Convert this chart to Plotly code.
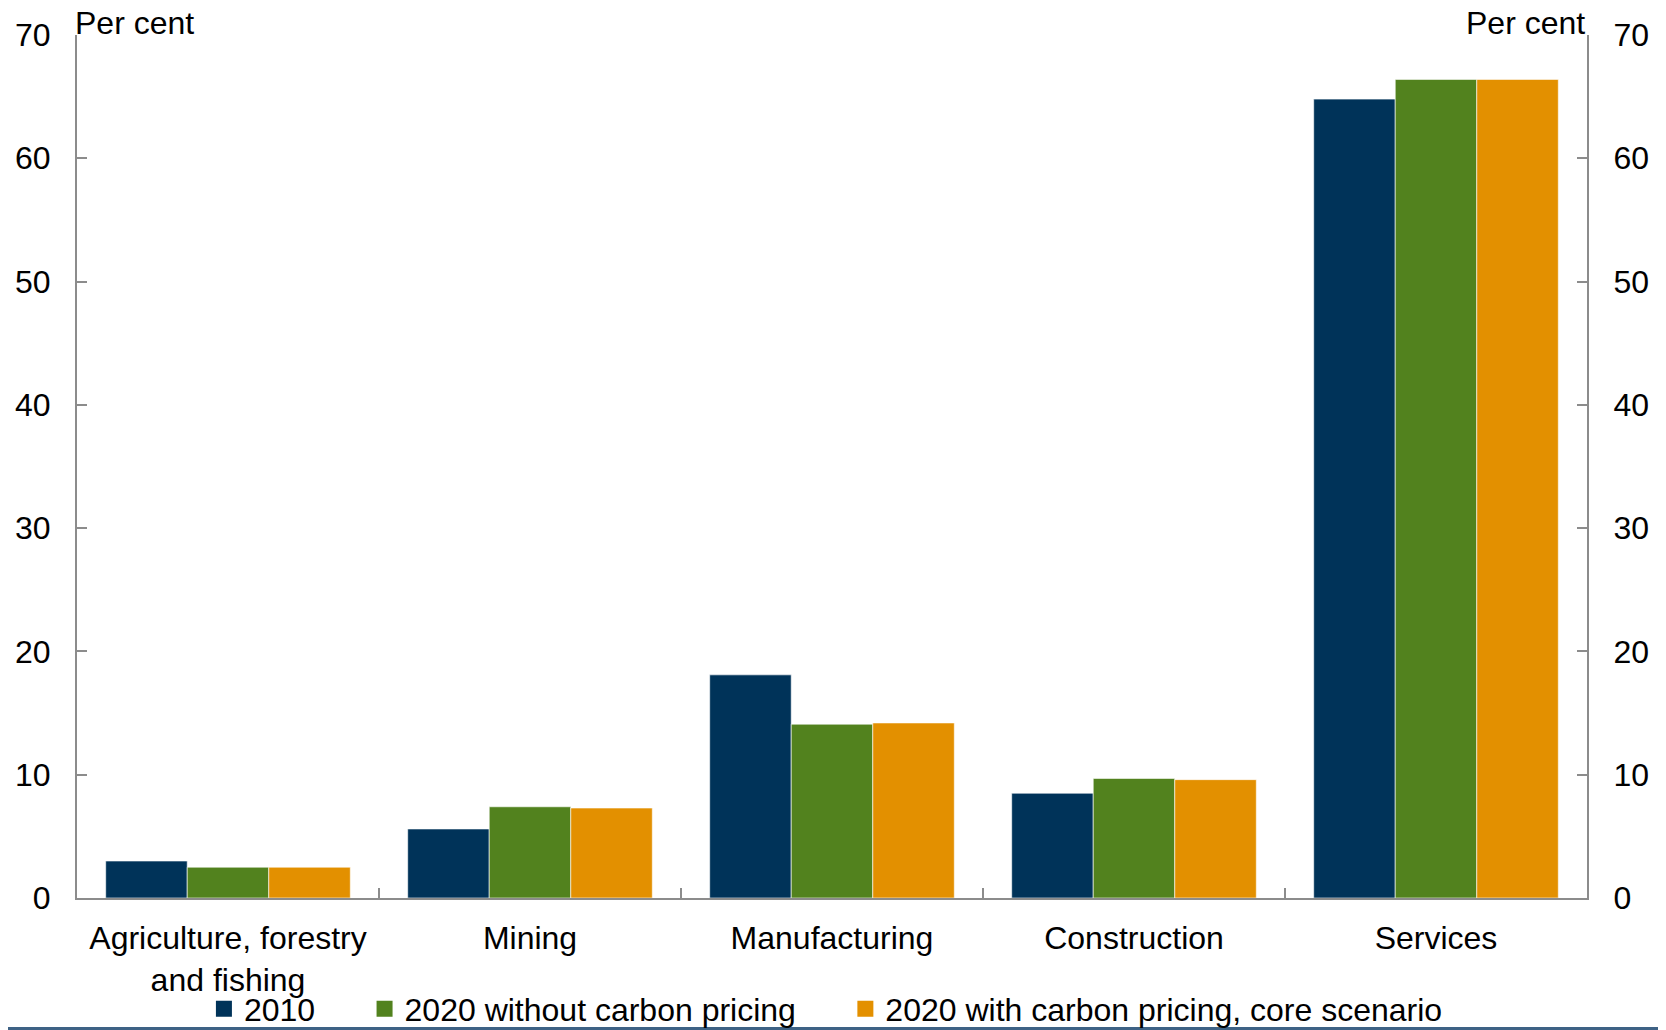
import plotly.graph_objects as go

categories = ["Agriculture, forestry<br>and fishing", "Mining", "Manufacturing", "Construction", "Services"]
s2010 = [3.0, 5.6, 18.1, 8.5, 64.8]
s2020_without = [2.5, 7.4, 14.1, 9.7, 66.4]
s2020_with = [2.5, 7.3, 14.2, 9.6, 66.4]
series_names = ["2010", "2020 without carbon pricing", "2020 with carbon pricing, core scenario"]
colors = ["#003359", "#52821E", "#E39000"]
y_ticks = [0, 10, 20, 30, 40, 50, 60, 70]

FONT = "Liberation Sans, Arial, sans-serif"
AX = "#8C8C8C"
FS = 32
NB = "\u00a0"

fig = go.Figure()
for name, vals, c in zip(series_names, [s2010, s2020_without, s2020_with], colors):
    fig.add_trace(go.Bar(x=categories, y=vals, name=name, showlegend=False,
                         marker=dict(color=c, line=dict(color="rgba(255,255,255,0.6)", width=1))))

# legend entries (square markers)
pads = [NB * 5, NB * 5, ""]
for name, c, p in zip(series_names, colors, pads):
    fig.add_trace(go.Scatter(x=[None], y=[None], mode="markers", name=name + p,
                             marker=dict(symbol="square", size=16, color=c), showlegend=True))

# invisible trace to activate right axis
fig.add_trace(go.Scatter(x=categories, y=s2010, yaxis="y2", mode="markers", marker=dict(opacity=0),
                         showlegend=False, hoverinfo="skip"))

fig.update_layout(
    width=1666, height=1030,
    margin=dict(l=69, r=87, t=27, b=140),
    paper_bgcolor="white", plot_bgcolor="white",
    font=dict(family=FONT, size=FS, color="black"),
    barmode="group", bargap=0.19, bargroupgap=0,
    showlegend=True,
    legend=dict(orientation="h", xref="container", yref="container", x=0.1176, xanchor="left",
                y=0.0282, yanchor="middle", font=dict(size=FS), itemsizing="trace",
                traceorder="normal", bgcolor="rgba(0,0,0,0)", borderwidth=0),
    xaxis=dict(showline=True, linecolor=AX, linewidth=2, ticks="inside", tickson="boundaries",
               ticklen=10, tickwidth=2, tickcolor=AX, showgrid=False, zeroline=False,
               tickfont=dict(size=FS), ticklabelstandoff=11, automargin=False),
    yaxis=dict(range=[0, 70], tickvals=y_ticks, showline=True, linecolor=AX, linewidth=2,
               ticks="inside", ticklen=10, tickwidth=2, tickcolor=AX, showgrid=False, zeroline=False,
               tickfont=dict(size=FS), ticklabelstandoff=18, automargin=False),
    yaxis2=dict(range=[0, 70], tickvals=y_ticks, overlaying="y", side="right", showline=True,
                linecolor=AX, linewidth=2, ticks="inside", ticklen=10, tickwidth=2, tickcolor=AX,
                showgrid=False, zeroline=False, tickfont=dict(size=FS), ticklabelstandoff=18,
                automargin=False),
)

fig.add_annotation(text="Per cent", xref="paper", yref="paper", x=0, y=1.0, xanchor="left", yanchor="bottom",
                   showarrow=False, font=dict(size=FS), xshift=-4, yshift=-8)
fig.add_annotation(text="Per cent", xref="paper", yref="paper", x=1, y=1.0, xanchor="right", yanchor="bottom",
                   showarrow=False, font=dict(size=FS), xshift=0, yshift=-8)

fig.add_shape(type="line", xref="paper", yref="paper", x0=-0.1, x1=1.1, y0=-0.1512, y1=-0.1512,
              line=dict(color="#3E6285", width=3))

fig.write_html("out.html")
